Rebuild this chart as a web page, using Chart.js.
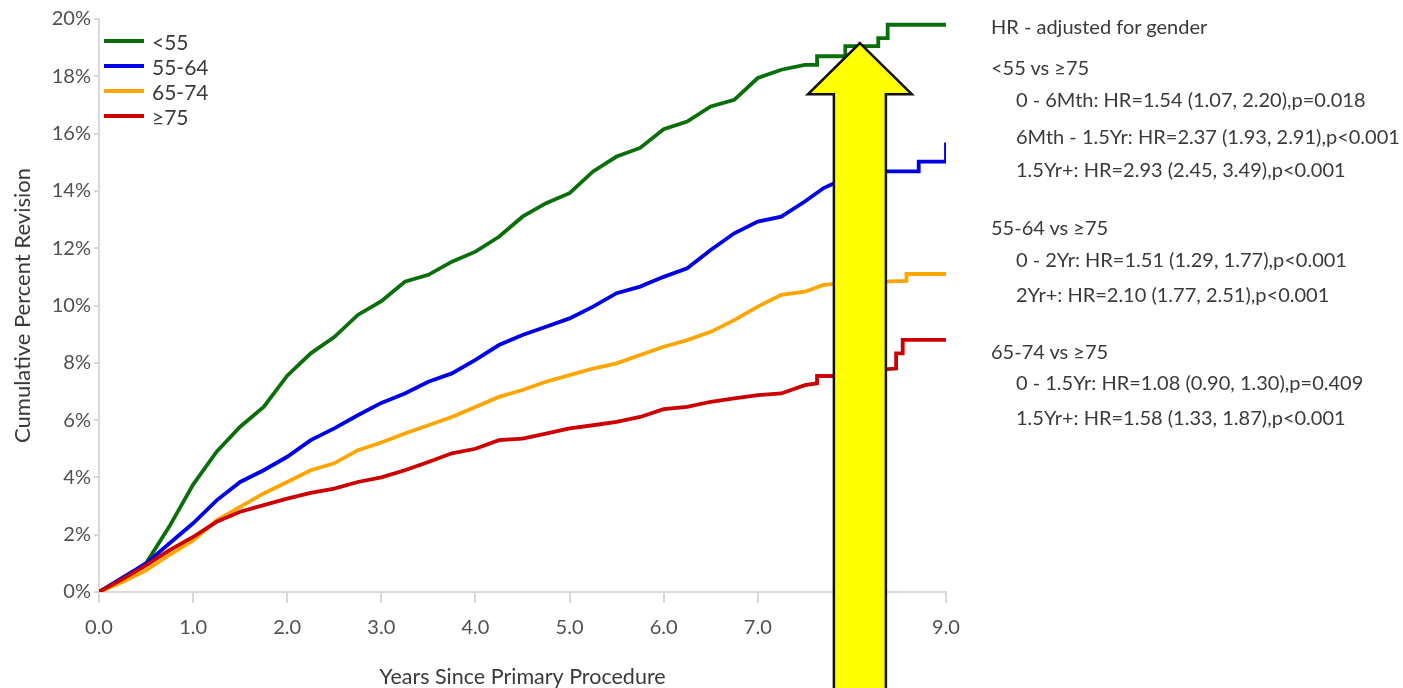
<!DOCTYPE html>
<html>
<head>
<meta charset="utf-8">
<script src="https://cdn.jsdelivr.net/npm/chart.js@4/dist/chart.umd.min.js"></script>
<style>
    html, body { margin: 0; padding: 0; background: #fff; }
    #wrap { position: relative; width: 1403px; height: 688px; }
    .hr { position: absolute; font-family: Lato, sans-serif; font-size: 20px; color: #3a3a3a; white-space: nowrap; line-height: 1; }
</style>
</head>
<body>
<div id="wrap">
    <canvas id="revisionChart"></canvas>
    <div id="hrText"></div>
</div>
<script>
// Sampled years (shared by the smooth part of each curve)
const years = [0, 0.25, 0.5, 0.75, 1.0, 1.25, 1.5, 1.75, 2.0, 2.25, 2.5, 2.75, 3.0, 3.25, 3.5, 3.75,
    4.0, 4.25, 4.5, 4.75, 5.0, 5.25, 5.5, 5.75, 6.0, 6.25, 6.5, 6.75, 7.0, 7.25, 7.5];

// Cumulative percent revision by age group
const under55 = [0, 0.45, 1.0, 2.3, 3.75, 4.9, 5.77, 6.46, 7.55, 8.33, 8.9, 9.67, 10.15, 10.83, 11.07, 11.53,
    11.88, 12.4, 13.1, 13.57, 13.92, 14.68, 15.2, 15.5, 16.15, 16.42, 16.95, 17.18, 17.94, 18.23, 18.4];
const age55to64 = [0, 0.5, 1.0, 1.7, 2.4, 3.2, 3.84, 4.25, 4.72, 5.3, 5.71, 6.17, 6.6, 6.93, 7.34, 7.63,
    8.1, 8.62, 8.97, 9.26, 9.55, 9.96, 10.43, 10.66, 11.0, 11.3, 11.94, 12.52, 12.93, 13.1, 13.63];
const age65to74 = [0, 0.35, 0.76, 1.3, 1.8, 2.5, 2.97, 3.44, 3.84, 4.25, 4.49, 4.95, 5.22, 5.53, 5.82, 6.11,
    6.46, 6.81, 7.05, 7.34, 7.57, 7.8, 7.98, 8.27, 8.56, 8.79, 9.08, 9.49, 9.96, 10.37, 10.48];
const age75plus = [0, 0.45, 0.93, 1.46, 1.92, 2.45, 2.8, 3.03, 3.26, 3.46, 3.61, 3.84, 4.0, 4.25, 4.54, 4.84,
    5.0, 5.3, 5.35, 5.53, 5.71, 5.82, 5.94, 6.11, 6.38, 6.46, 6.64, 6.76, 6.87, 6.93, 7.22];

// Stepped tails after 7.5 years
const under55TailYears = [7.63, 7.63, 7.93, 7.93, 8.28, 8.28, 8.38, 8.38, 9.0];
const under55TailValues = [18.4, 18.7, 18.7, 19.05, 19.05, 19.33, 19.33, 19.8, 19.8];
const age55to64TailYears = [7.7, 7.9, 8.37, 8.71, 8.71, 9.0, 9.0];
const age55to64TailValues = [14.1, 14.4, 14.68, 14.68, 15.02, 15.02, 15.69];
const age65to74TailYears = [7.7, 8.0, 8.58, 8.58, 9.0];
const age65to74TailValues = [10.72, 10.8, 10.86, 11.1, 11.1];
const age75plusTailYears = [7.63, 7.63, 7.8, 8.0, 8.47, 8.47, 8.54, 8.54, 9.0];
const age75plusTailValues = [7.28, 7.54, 7.54, 7.7, 7.8, 8.33, 8.33, 8.8, 8.8];

const seriesLabels = ['<55', '55-64', '65-74', '\u226575'];
const seriesColors = ['#0a6e0a', '#0000e6', '#ffa500', '#cc0000'];

const yTicks = [0, 2, 4, 6, 8, 10, 12, 14, 16, 18, 20];
const xTicks = [0, 1, 2, 3, 4, 5, 6, 7, 8, 9];

// Arrow annotation (in data units)
const arrowYear = 8.085;
const arrowTipValue = 19.16;
const arrowHeadValue = 17.37;

// Hazard ratio notes on the right
const hrLines = [
    { text: 'HR - adjusted for gender', indent: false, y: 27 },
    { text: '<55 vs \u226575', indent: false, y: 68 },
    { text: '0 - 6Mth: HR=1.54 (1.07, 2.20),p=0.018', indent: true, y: 100 },
    { text: '6Mth - 1.5Yr: HR=2.37 (1.93, 2.91),p<0.001', indent: true, y: 137 },
    { text: '1.5Yr+: HR=2.93 (2.45, 3.49),p<0.001', indent: true, y: 170 },
    { text: '55-64 vs \u226575', indent: false, y: 228 },
    { text: '0 - 2Yr: HR=1.51 (1.29, 1.77),p<0.001', indent: true, y: 260 },
    { text: '2Yr+: HR=2.10 (1.77, 2.51),p<0.001', indent: true, y: 295 },
    { text: '65-74 vs \u226575', indent: false, y: 352 },
    { text: '0 - 1.5Yr: HR=1.08 (0.90, 1.30),p=0.409', indent: true, y: 383 },
    { text: '1.5Yr+: HR=1.58 (1.33, 1.87),p<0.001', indent: true, y: 418 }
];

function toPoints(xs, ys, tailXs, tailYs) {
    const pts = xs.map((x, i) => ({ x: x, y: ys[i] }));
    tailXs.forEach((x, i) => pts.push({ x: x, y: tailYs[i] }));
    return pts;
}

const seriesData = [
    toPoints(years, under55, under55TailYears, under55TailValues),
    toPoints(years, age55to64, age55to64TailYears, age55to64TailValues),
    toPoints(years, age65to74, age65to74TailYears, age65to74TailValues),
    toPoints(years, age75plus, age75plusTailYears, age75plusTailValues)
];

const textColor = '#3a3a3a';
const tickColor = '#505050';
const axisColor = '#d9d9d9';
const fontFamily = 'Lato, sans-serif';

// Legend drawn inside the plot area, top left
const insideLegend = {
    id: 'insideLegend',
    afterDatasetsDraw(chart) {
        const ctx = chart.ctx;
        const left = chart.chartArea.left;
        ctx.save();
        ctx.font = '21px ' + fontFamily;
        ctx.textBaseline = 'middle';
        seriesLabels.forEach((label, i) => {
            const y = 41 + i * 25;
            ctx.strokeStyle = seriesColors[i];
            ctx.lineWidth = 4;
            ctx.beginPath();
            ctx.moveTo(left + 5, y);
            ctx.lineTo(left + 45, y);
            ctx.stroke();
            ctx.fillStyle = textColor;
            ctx.fillText(label, left + 53, y + 2);
        });
        ctx.restore();
    }
};

// Yellow arrow over the chart
const arrowOverlay = {
    id: 'arrowOverlay',
    afterDraw(chart) {
        const ctx = chart.ctx;
        const cx = chart.scales.x.getPixelForValue(arrowYear);
        const tipY = chart.scales.y.getPixelForValue(arrowTipValue);
        const headY = chart.scales.y.getPixelForValue(arrowHeadValue);
        const bottom = chart.height + 10;
        const shaft = 26;
        const head = 52;
        ctx.save();
        ctx.beginPath();
        ctx.moveTo(cx, tipY);
        ctx.lineTo(cx + head, headY);
        ctx.lineTo(cx + shaft, headY);
        ctx.lineTo(cx + shaft, bottom);
        ctx.lineTo(cx - shaft, bottom);
        ctx.lineTo(cx - shaft, headY);
        ctx.lineTo(cx - head, headY);
        ctx.closePath();
        ctx.fillStyle = '#ffff00';
        ctx.fill();
        ctx.strokeStyle = '#111';
        ctx.lineWidth = 2.5;
        ctx.lineJoin = 'miter';
        ctx.stroke();
        ctx.restore();
    }
};

function buildChart() {
    const ctx = document.getElementById('revisionChart');

    const datasets = seriesLabels.map((label, i) => ({
        label: label,
        data: seriesData[i],
        borderColor: seriesColors[i],
        backgroundColor: seriesColors[i],
        borderWidth: 3.8,
        pointRadius: 0,
        tension: 0,
        fill: false,
        order: 3 - i
    }));

    new Chart(ctx, {
        type: 'line',
        data: { datasets: datasets },
        options: {
            responsive: true,
            maintainAspectRatio: false,
            animation: false,
            layout: {
                padding: { top: 19, right: 457, left: 0, bottom: 0 }
            },
            plugins: {
                legend: { display: false },
                tooltip: { enabled: false }
            },
            scales: {
                x: {
                    type: 'linear',
                    min: 0,
                    max: 9,
                    afterBuildTicks: function(scale) {
                        scale.ticks = xTicks.map(v => ({ value: v }));
                    },
                    afterFit: function(scale) {
                        scale.height = 96;
                    },
                    ticks: {
                        color: tickColor,
                        font: { family: fontFamily, size: 20 },
                        padding: 13,
                        maxRotation: 0,
                        callback: function(value) {
                            return Number(value).toFixed(1);
                        }
                    },
                    grid: {
                        drawOnChartArea: false,
                        drawTicks: true,
                        tickLength: 11,
                        tickColor: axisColor,
                        lineWidth: 2
                    },
                    border: { color: axisColor, width: 2 },
                    title: {
                        display: true,
                        text: 'Years Since Primary Procedure',
                        color: textColor,
                        font: { family: fontFamily, size: 21.5, lineHeight: 1 },
                        padding: { top: 0, bottom: 0 }
                    }
                },
                y: {
                    min: 0,
                    max: 20,
                    afterBuildTicks: function(scale) {
                        scale.ticks = yTicks.map(v => ({ value: v }));
                    },
                    afterFit: function(scale) {
                        scale.width = 99;
                    },
                    ticks: {
                        color: tickColor,
                        font: { family: fontFamily, size: 20 },
                        padding: 3,
                        callback: function(value) {
                            return value + '%';
                        }
                    },
                    grid: {
                        drawOnChartArea: false,
                        drawTicks: true,
                        tickLength: 5,
                        tickColor: axisColor,
                        lineWidth: 2
                    },
                    border: { color: axisColor, width: 2 },
                    title: {
                        display: true,
                        text: 'Cumulative Percent Revision',
                        color: textColor,
                        font: { family: fontFamily, size: 22, lineHeight: 1 },
                        padding: { top: 12, bottom: 0 }
                    }
                }
            }
        },
        plugins: [insideLegend, arrowOverlay]
    });
}

function buildNotes() {
    const box = document.getElementById('hrText');
    hrLines.forEach(line => {
        const div = document.createElement('div');
        div.className = 'hr';
        div.textContent = line.text;
        div.style.left = (line.indent ? 1016 : 991) + 'px';
        div.style.top = (line.y - 11) + 'px';
        box.appendChild(div);
    });
}

buildNotes();
buildChart();
</script>
</body>
</html>
